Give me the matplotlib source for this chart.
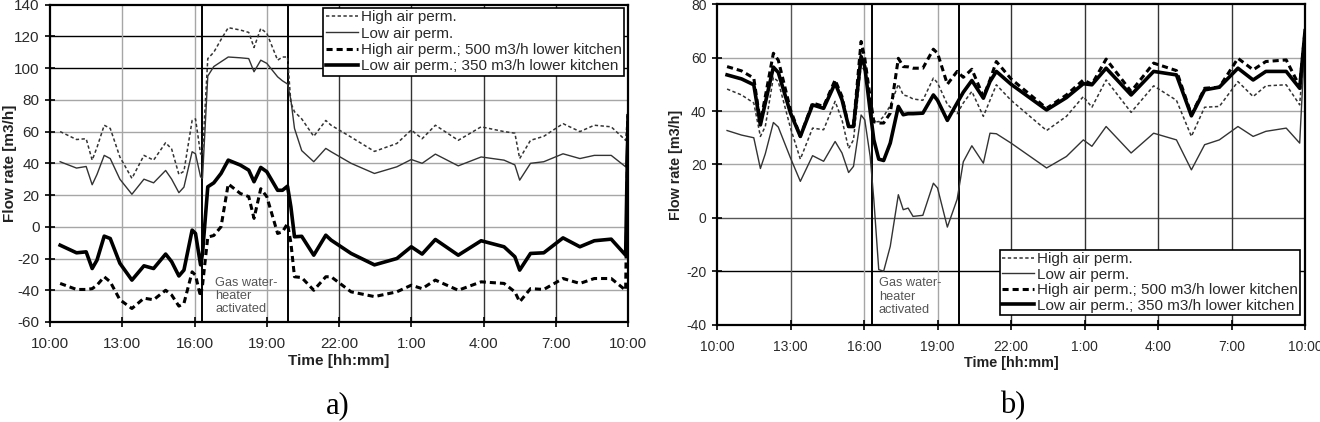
import numpy as np
import matplotlib
matplotlib.use("Agg")
from matplotlib import pyplot as plt

plt.rcParams['font.family'] = ['Liberation Sans', 'DejaVu Sans']
plt.rcParams['axes.unicode_minus'] = False

# hours after 10:00
tick_hours = [0, 3, 6, 9, 12, 15, 18, 21, 24]
tick_labels = ["10:00", "13:00", "16:00", "19:00", "22:00", "1:00", "4:00", "7:00", "10:00"]
series_names = ["High air perm.", "Low air perm.",
                "High air perm.; 500 m3/h lower kitchen",
                "Low air perm.; 350 m3/h lower kitchen"]

# ---- a) ----
hours_a = [0.42, 1.1, 1.5, 1.75, 1.95, 2.25, 2.5, 2.9, 3.4, 3.9, 4.3, 4.8, 5.05, 5.35, 5.56,
           5.9, 6.04, 6.25, 6.33, 6.55, 6.8, 7.1, 7.4, 7.9, 8.25, 8.47, 8.75, 9.0, 9.45, 9.65,
           9.86, 10.0, 10.15, 10.45, 10.95, 11.45, 11.67, 12.5, 13.47, 14.4, 15.0, 15.45, 16.0,
           16.95, 17.9, 18.85, 19.3, 19.5, 19.95, 20.5, 21.3, 22.0, 22.6, 23.3, 23.9, 24.0]
high_a = [60, 55, 55.5, 42, 50, 64, 62, 44, 30.5, 45, 42, 53, 49, 33, 35,
          67, 68, 46, 45, 106, 110, 118, 125.5, 124, 122.5, 113, 125, 122, 105, 107,
          107, 78, 72.5, 68, 57, 67, 64, 56.5, 47.5, 52.5, 61, 55.5, 64,
          54.5, 63, 60, 59, 43, 54.5, 57, 65, 60, 64, 63, 54.5, 75]
low_a = [41, 37, 38, 26.5, 33, 45, 43, 30, 20.5, 30, 27.7, 35.5, 30, 21.5, 25,
         47.3, 46, 31.5, 30.5, 95, 101, 104, 107, 106.5, 106, 97.7, 105, 103, 94.5, 92,
         90, 80, 62, 48, 41, 49.4, 47.3, 40, 33.6, 37.8, 42.4, 40, 45.8,
         38.4, 44, 42, 39, 29.4, 40, 41, 46, 43, 45, 45, 37.8, 72]
high500_a = [-35.7, -39.5, -39.5, -39, -36.8, -31.5, -34.7, -46, -51.5, -45, -46, -40, -43, -50, -48.3,
             -28.4, -30.5, -44, -37, -6.5, -5.5, 0, 27, 21, 19, 5.3, 24, 19, -4.2, -3.2,
             2, -10, -31.5, -32, -40, -31.5, -31.5, -41, -44, -41, -36.8, -39, -33.6,
             -40, -34.7, -35.7, -41, -47.3, -39, -39.5, -32.6, -35.7, -32.6, -32.6, -40, 70]
low350_a = [-11.6, -16.4, -15.8, -26.3, -21, -5.9, -7.4, -23, -33.6, -24.6, -26.3, -17.2, -22, -31, -27.3,
            -2.1, -4.2, -24, -17, 25.2, 27.7, 33.6, 42, 38.9, 35.7, 28.4, 37.4, 34.7, 23, 23,
            25.6, 12.6, -6.3, -6, -17.9, -5.3, -8.4, -16.8, -24, -20, -12.6, -17.2, -8,
            -17.9, -8.8, -12.6, -18.9, -27.3, -16.8, -16.4, -7, -12.6, -8.8, -7.8, -17.9, 70]
yticks_a = list(range(-60, 141, 20))
heater_a = [6.3, 9.88]

# ---- b) ----
hours_b = [0.41, 1.0, 1.5, 1.77, 1.97, 2.3, 2.5, 3.0, 3.4, 3.9, 4.35, 4.82, 5.1, 5.37, 5.57,
           5.88, 6.03, 6.25, 6.4, 6.6, 6.8, 7.07, 7.4, 7.6, 7.8, 8.0, 8.4, 8.83, 9.0, 9.4,
           9.8, 10.05, 10.4, 10.87, 11.14, 11.4, 12.0, 13.45, 14.26, 14.95, 15.3, 15.88, 16.9,
           17.82, 18.75, 19.36, 19.9, 20.5, 21.26, 21.88, 22.4, 23.23, 23.78, 24.0]
high_b = [48.2, 46, 43, 30.5, 34.2, 52.6, 51, 33.6, 22, 33.6, 33, 43.6, 36.7, 26, 29.2,
          57, 55, 42, 36, 36, 38, 42, 50, 46, 45.5, 44.5, 44, 52.3, 50.5, 42.5,
          39, 43, 47.3, 38, 44, 49.8, 44, 32.7, 38, 45.4, 41.4, 51.6, 39.5,
          49.4, 44, 30.5, 41.4, 41.7, 51, 45.4, 49.4, 49.8, 42.3, 68]
low_b = [32.7, 31, 30, 18.5, 24, 35.7, 34, 22.4, 13.7, 23.3, 21.2, 28.6, 24.3, 17, 19.3,
         38.5, 36.7, 23, 6.8, -19.3, -19.9, -10.6, 8.7, 3.1, 3.7, 0.6, 1, 13, 11.2, -3.4,
         7, 21, 27, 20.5, 31.7, 31.5, 28, 18.7, 23, 29.2, 26.8, 34.2, 24.3,
         31.7, 29.2, 18, 27.4, 29.2, 34.2, 30.5, 32.4, 33.6, 28, 68]
high500_b = [56.6, 55, 52.3, 35.5, 45.4, 61.6, 59, 40.4, 30.5, 43, 41.7, 51.6, 45.4, 34.2, 34.8,
             66, 59.7, 45, 36, 35.5, 35.5, 39.2, 59.7, 56.6, 56.5, 56, 56, 63.1, 61.6, 50,
             54.8, 52.6, 55.6, 45.4, 51.6, 58.5, 52, 41, 46, 51.6, 50, 59.4, 47.3,
             57.9, 55.1, 38.6, 48.5, 48.9, 59.7, 55.4, 58.5, 59.1, 49.2, 70]
low350_b = [53.5, 52, 49.8, 34.8, 43, 56.4, 54.4, 39.2, 30.5, 42.3, 41, 50.4, 44.2, 34.2, 34.2,
            60.4, 56.6, 40, 29.2, 22, 21.5, 28, 41.7, 38.6, 39, 39, 39.2, 46, 44, 36.5,
            43, 47, 51.4, 44.8, 51, 54.8, 50, 40.4, 45, 50.2, 49.8, 56, 46,
            54.8, 53.5, 38.2, 47.9, 48.9, 56, 51.6, 54.8, 54.8, 48.5, 70]
yticks_b = list(range(-40, 81, 20))
heater_b = [6.33, 9.88]

styles = [
    dict(color='#333333', lw=1.1, ls=(0, (2.2, 1.6))),
    dict(color='#333333', lw=1.0, ls='-'),
    dict(color='black', lw=2.2, ls=(0, (2.0, 1.3))),
    dict(color='black', lw=2.6, ls='-'),
]

fig = plt.figure(figsize=(13.2, 4.22), dpi=100)
ax1 = fig.add_axes([0.0379, 0.237, 0.4379, 0.752])
ax2 = fig.add_axes([0.5432, 0.2299, 0.4455, 0.7606])


def draw(ax, hours, data, yticks, heater, dark_h, dark_v, note_xy,
         leg_loc, leg_anchor, tick_fs, lab_fs, leg_fs, lspace):
    for yv in yticks[1:-1]:
        ax.axhline(yv, color=dark_h.get(yv, '#a6a6a6'), lw=1.0, zorder=0)
    for xv in tick_hours[1:-1]:
        ax.axvline(xv, color=dark_v.get(xv, '#a6a6a6'), lw=1.0, zorder=0)
    for xv in heater:
        ax.axvline(xv, color='black', lw=1.4, zorder=1)
    for vals, st, name in zip(data, styles, series_names):
        ax.plot(hours, vals, label=name, zorder=2, **st)
    ax.set_xlim(0, 24)
    ax.set_ylim(yticks[0], yticks[-1])
    ax.set_xticks(tick_hours)
    ax.set_xticklabels(tick_labels)
    ax.set_yticks(yticks)
    ax.tick_params(direction='inout', length=7, width=1.2, labelsize=tick_fs, labelcolor='#2a2a2a')
    ax.tick_params(axis='x', pad=7)
    ax.tick_params(axis='y', pad=4)
    for sp in ax.spines.values():
        sp.set_linewidth(1.6)
    ax.set_xlabel("Time [hh:mm]", fontsize=lab_fs, fontweight='bold', color='#222222')
    ax.set_ylabel("Flow rate [m3/h]", fontsize=lab_fs, fontweight='bold', color='#222222')
    ax.text(note_xy[0], note_xy[1], "Gas water-\nheater\nactivated", fontsize=9.2,
            color='#555555', va='top', ha='left', linespacing=1.15)
    leg = ax.legend(loc=leg_loc, bbox_to_anchor=leg_anchor, borderaxespad=0,
                    fontsize=leg_fs, frameon=True, fancybox=False, framealpha=1,
                    edgecolor='black', handlelength=2.1, handletextpad=0.2,
                    labelspacing=lspace, borderpad=0.15)
    leg.get_frame().set_linewidth(1.2)
    for t in leg.get_texts():
        t.set_color('#2a2a2a')
    leg.set_zorder(5)


draw(ax1, hours_a, [high_a, low_a, high500_a, low350_a], yticks_a, heater_a,
     {100: 'black', 120: 'black'}, {12: '#333333', 15: '#333333', 18: '#333333', 21: '#333333'},
     (6.85, -31.5), 'upper right', (0.993, 0.99), 11, 11, 11, 0.16)
draw(ax2, hours_b, [high_b, low_b, high500_b, low350_b], yticks_b, heater_b,
     {-20: 'black', 0: '#555555'},
     {3: '#555555', 12: '#333333', 15: '#333333', 18: '#333333', 21: '#333333'},
     (6.6, -22.2), 'lower right', (0.992, 0.031), 10, 10.4, 11, 0.1)

ax1.yaxis.set_label_coords(-0.057, 0.5)
ax1.xaxis.set_label_coords(0.5, -0.101)
ax2.yaxis.set_label_coords(-0.058, 0.5)
ax2.xaxis.set_label_coords(0.5, -0.097)

fig.text(0.256, 0.02, "a)", fontsize=22, family=['Liberation Serif', 'DejaVu Serif'],
         ha='center', va='baseline')
fig.text(0.767, 0.02, "b)", fontsize=22, family=['Liberation Serif', 'DejaVu Serif'],
         ha='center', va='baseline')

fig.savefig("out.png", dpi=100)
